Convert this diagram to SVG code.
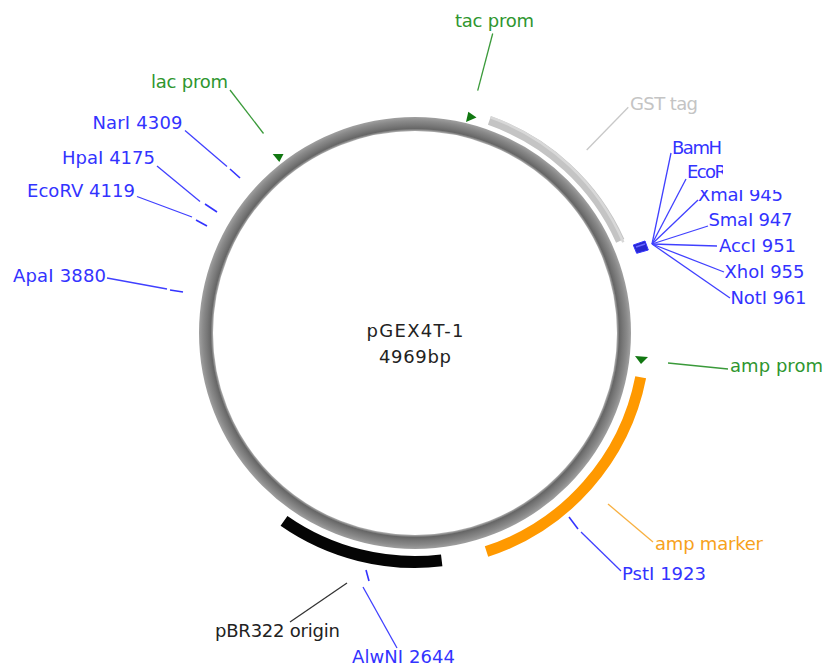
<svg xmlns="http://www.w3.org/2000/svg" width="825" height="667" viewBox="0 0 825 667">
<defs>
<radialGradient id="ringGrad" gradientUnits="userSpaceOnUse" cx="415" cy="333" r="216">
<stop offset="0.935" stop-color="#b0b0b0"/>
<stop offset="0.946" stop-color="#666666"/>
<stop offset="0.962" stop-color="#777777"/>
<stop offset="0.982" stop-color="#8a8a8a"/>
<stop offset="1" stop-color="#a0a0a0"/>
</radialGradient>
<clipPath id="clipR"><rect x="0" y="0" width="723" height="667"/></clipPath>
<clipPath id="clipXma"><rect x="0" y="190" width="825" height="480"/></clipPath>
</defs>
<style>
text{font-family:"DejaVu Sans","Liberation Sans",sans-serif;font-size:18px}
.blue{fill:#3333ff}
.green{fill:#2f962f}
.sl{stroke:#4040ff;stroke-width:1.3;fill:none}
.tick{stroke:#3333ff;stroke-width:1.6;fill:none}
.gl{stroke:#3a9a3a;stroke-width:1.3;fill:none}
.tri{fill:#117711}
.band{fill:none}
</style>
<rect width="825" height="667" fill="#ffffff"/>

<g id="backbone">
<circle cx="415" cy="333" r="209" fill="none" stroke="url(#ringGrad)" stroke-width="14"/>
</g>

<g id="gst-tag">
<path class="band" d="M489.4 120.6 A225 225 0 0 1 620.2 240.8" stroke="#c4c4c4" stroke-width="9"/>
<path class="band" d="M490.5 117.2 A228.5 228.5 0 0 1 623.3 242.2" stroke="#d8d8d8" stroke-width="2.5"/>
<text x="630" y="110" fill="#c4c4c4" textLength="68">GST tag</text>
</g>

<g id="amp-marker">
<path class="band" d="M640.7 377.3 A230 230 0 0 1 486.5 551.6" stroke="#ff9900" stroke-width="11"/>
<text x="655" y="550" fill="#f7a21b" textLength="108">amp marker</text>
</g>

<g id="pbr322-origin">
<path class="band" d="M441.7 560.4 A229 229 0 0 1 284.0 520.8" stroke="#050505" stroke-width="12"/>
<text x="215" y="637" fill="#222222" textLength="125">pBR322 origin</text>
</g>

<g id="tac-prom">
<polygon class="tri" points="468.3,111.7 476.5,117.5 466,122"/>
<text class="green" x="455" y="27" textLength="79">tac prom</text>
</g>

<g id="lac-prom">
<polygon class="tri" points="272.7,154 283.5,154 279.3,162"/>
<text class="green" x="151" y="88" textLength="77">lac prom</text>
</g>

<g id="amp-prom">
<polygon class="tri" points="635,356 648,357 641,364"/>
<text class="green" x="730" y="372" textLength="93">amp prom</text>
</g>

<g id="site-NarI">
<line class="tick" x1="230" y1="169" x2="240" y2="178"/>
<text class="blue" x="92.5" y="128.5" textLength="90">NarI 4309</text>
</g>
<g id="site-HpaI">
<line class="tick" x1="205" y1="204" x2="217" y2="212"/>
<text class="blue" x="62" y="164" textLength="93">HpaI 4175</text>
</g>
<g id="site-EcoRV">
<line class="tick" x1="196" y1="220" x2="207" y2="226"/>
<text class="blue" x="27" y="197" textLength="108">EcoRV 4119</text>
</g>
<g id="site-ApaI">
<line class="tick" x1="170" y1="290" x2="183" y2="292"/>
<text class="blue" x="13" y="282" textLength="93">ApaI 3880</text>
</g>
<g id="site-PstI">
<line class="tick" x1="569" y1="517" x2="578" y2="529"/>
<text class="blue" x="622" y="580" textLength="84">PstI 1923</text>
</g>
<g id="site-AlwNI">
<line class="tick" x1="366" y1="570" x2="369" y2="581"/>
<text class="blue" x="352" y="663" textLength="103">AlwNI 2644</text>
</g>

<g id="mcs-sites">
<polygon points="633.3,245 645,241 648.3,250 636.7,253.3" fill="#2828d0" stroke="#3333ff" stroke-width="1"/>
<line x1="636" y1="247" x2="645" y2="244" stroke="#6a6aff" stroke-width="1.5"/>
</g>
<g id="site-BamH"><text class="blue" x="672" y="153.5" textLength="50" clip-path="url(#clipR)">BamH</text></g>
<g id="site-EcoF"><text class="blue" x="687" y="178" textLength="40" clip-path="url(#clipR)">EcoR</text></g>
<g id="site-XmaI"><text class="blue" x="698" y="201" textLength="85" clip-path="url(#clipXma)">XmaI 945</text></g>
<g id="site-SmaI"><text class="blue" x="708.5" y="226" textLength="84">SmaI 947</text></g>
<g id="site-AccI"><text class="blue" x="719" y="252" textLength="77">AccI 951</text></g>
<g id="site-XhoI"><text class="blue" x="724.5" y="277.5" textLength="80">XhoI 955</text></g>
<g id="site-NotI"><text class="blue" x="730.5" y="304" textLength="76">NotI 961</text></g>

<g id="center-label">
<text x="415" y="337" text-anchor="middle" fill="#222222" textLength="97">pGEX4T-1</text>
<text x="415" y="363" text-anchor="middle" fill="#222222" textLength="72">4969bp</text>
</g>

<g id="connectors">
<line class="gl" x1="492.7" y1="33.5" x2="477.7" y2="90.7"/>
<line class="gl" x1="230" y1="90" x2="263.5" y2="133.5"/>
<line class="gl" x1="668" y1="363" x2="728" y2="369"/>
<line x1="586.7" y1="150" x2="628.3" y2="107.3" stroke="#c8c8c8" stroke-width="1.3"/>
<line x1="608" y1="504" x2="653" y2="542" stroke="#f8b040" stroke-width="1.3"/>
<line x1="290" y1="622" x2="347" y2="583" stroke="#333333" stroke-width="1.3"/>
<line class="sl" x1="185" y1="130.5" x2="227" y2="166.5"/>
<line class="sl" x1="157" y1="166" x2="200" y2="201.5"/>
<line class="sl" x1="137" y1="196.5" x2="192" y2="217"/>
<line class="sl" x1="107" y1="278" x2="167" y2="289"/>
<line class="sl" x1="581" y1="532" x2="621" y2="571"/>
<line class="sl" x1="363" y1="587" x2="397" y2="648"/>
<line class="sl" x1="652" y1="244" x2="671" y2="153"/>
<line class="sl" x1="652" y1="244" x2="686" y2="179"/>
<line class="sl" x1="652" y1="244" x2="698" y2="200"/>
<line class="sl" x1="652" y1="244" x2="708" y2="226"/>
<line class="sl" x1="652" y1="244" x2="717" y2="246"/>
<line class="sl" x1="652" y1="244" x2="724" y2="272"/>
<line class="sl" x1="652" y1="244" x2="730" y2="298"/>
</g>
</svg>
